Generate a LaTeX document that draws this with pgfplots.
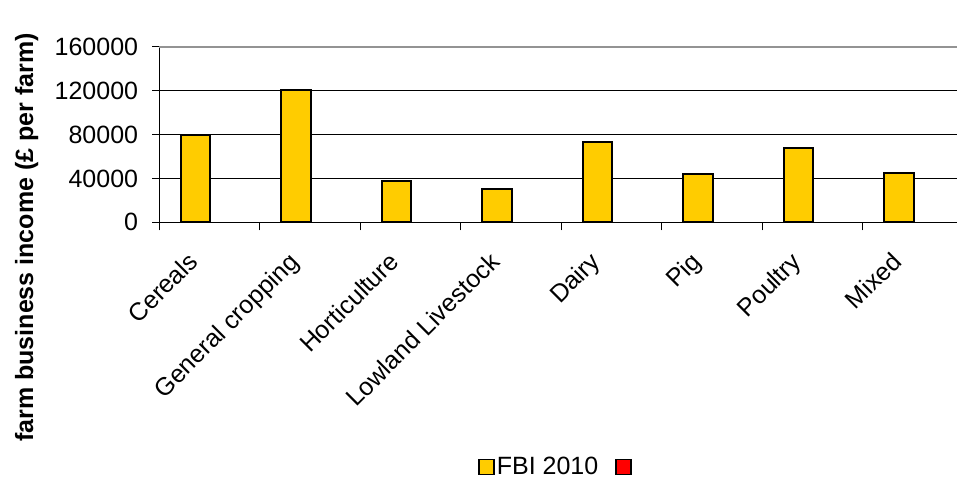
\documentclass[border=0pt]{standalone}
\usepackage{pgfplots}
\pgfplotsset{compat=1.18}
\usepackage{fontspec}
\setmainfont{Liberation Sans}
\definecolor{baryellow}{HTML}{FFCC00}
\begin{document}
\begin{tikzpicture}
\begin{axis}[
  at={(0,0)}, anchor=south west,
  scale only axis,
  width=797.7bp, height=175.6bp,
  xmin=0, xmax=7.937,
  ymin=0, ymax=160000,
  axis x line*=bottom, axis y line*=left,
  axis line style={-, black, line width=1.2bp},
  scaled y ticks=false,
  /pgf/number format/assume math mode=true,
  /pgf/number format/fixed,
  /pgf/number format/1000 sep={},
  ytick={0,40000,80000,120000},
  extra y ticks={160000},
  extra y tick style={grid style={gray!85, line width=1.8bp}},
  ymajorgrids,
  grid style={black, line width=0.8bp},
  tick align=outside,
  major tick length=7bp,
  minor tick length=8bp,
  tick style={black, line width=1bp},
  xtick={0.5,1.5,...,7.5},
  xticklabels={Cereals,General cropping,Horticulture,Lowland Livestock,Dairy,Pig,Poultry,Mixed},
  x tick style={draw=none},
  minor xtick={0,1,...,7},
  minor x tick style={draw=black, line width=1bp},
  tick label style={font=\fontsize{25bp}{30bp}\selectfont},
  yticklabel style={inner sep=0pt, anchor=east, xshift=-14bp},
  xticklabel style={xshift=-10bp, yshift=-34bp, rotate=45, anchor=base east, inner sep=0pt},
  every axis y label/.style={at={(rel axis cs:-0.1583,-0.0866)}, rotate=90, anchor=base, inner sep=0pt, font=\fontsize{25bp}{30bp}\selectfont\bfseries},
  ylabel={farm business income (£ per farm)},
  legend image code/.code={\draw[#1, line width=1.5bp] (0bp,-7.5bp) rectangle (15bp,7.5bp);},
  legend style={at={(rel axis cs:0.4986,-1.3935)}, anchor=center, draw=none, fill=none,
    legend columns=2, font=\fontsize{25bp}{30bp}\selectfont,
    nodes={inner sep=2bp},
    /tikz/every even column/.append style={column sep=15bp}},
]
\addplot[ybar, bar width=0.2935, fill=baryellow, draw=black, line width=2bp]
  coordinates {(0.3587,79500) (1.3587,120500) (2.3587,37600) (3.3587,30600)
               (4.3587,72900) (5.3587,44300) (6.3587,68000) (7.3587,45200)};
\addlegendentry{FBI 2010}
\addlegendimage{fill=red, draw=black}
\addlegendentry{}
\end{axis}
\pgfresetboundingbox
\path[use as bounding box] (-159.3bp,-256.7bp) rectangle (797.7bp,222.3bp);
\end{tikzpicture}
\end{document}
